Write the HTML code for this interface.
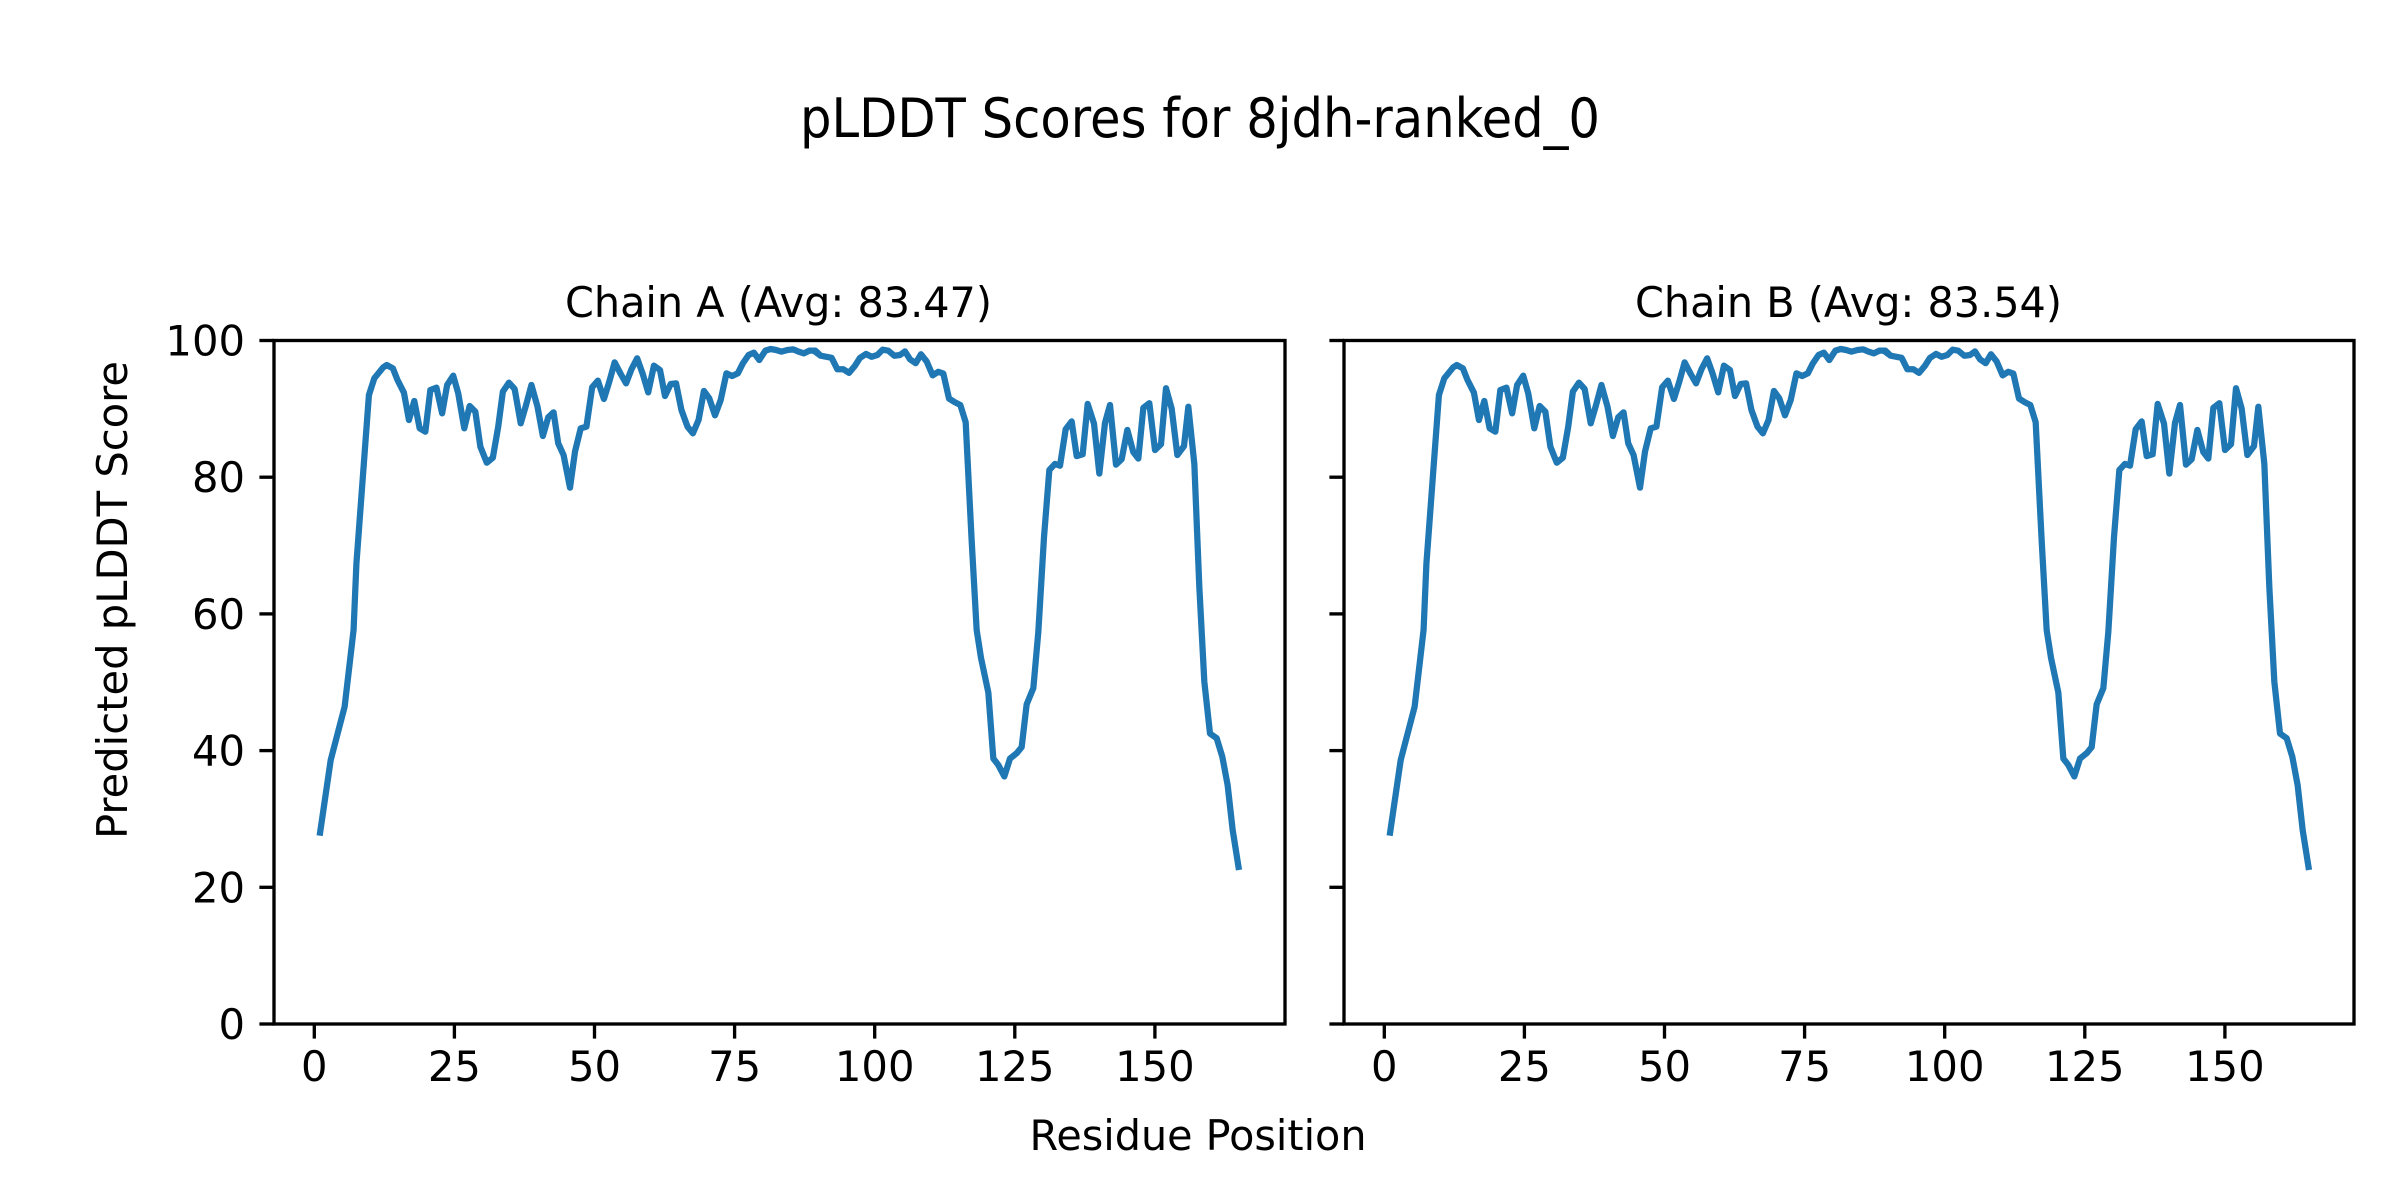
<!DOCTYPE html>
<html><head><meta charset="utf-8"><style>
html,body{margin:0;padding:0;background:#fff;}
svg{display:block;}
text{font-family:"DejaVu Sans","Liberation Sans",sans-serif;fill:#000;}
</style></head><body>
<svg width="2400" height="1200" viewBox="0 0 2400 1200" xmlns="http://www.w3.org/2000/svg">
<defs>
<g id="curve" fill="none" stroke="#1f77b4" stroke-width="6.25" stroke-linejoin="round">
<polyline vector-effect="non-scaling-stroke" transform="translate(260,330) scale(0.357143,0.333333)" points="167,1517 198,1290 237,1130 262,900 270,700 305,195 320,145 345,112 355,105 372,115 385,150 403,188 417,270 432,213 447,295 463,305 477,180 494,173 510,250 524,165 541,137 555,190 572,295 587,228 603,245 617,350 635,398 652,383 667,290 680,185 697,158 713,177 730,280 745,225 760,165 777,230 792,318 807,262 822,247 835,340 850,375 868,473 882,365 898,295 914,290 930,172 946,152 963,207 978,155 993,97 1010,132 1025,160 1040,118 1056,85 1072,133 1087,187 1103,107 1120,120 1134,198 1150,162 1165,160 1180,240 1197,290 1212,310 1228,270 1243,183 1258,205 1274,256 1290,210 1306,130 1322,138 1338,130 1352,100 1368,75 1383,68 1398,90 1415,62 1430,57 1445,60 1460,65 1477,60 1493,58 1508,65 1523,70 1538,62 1555,62 1568,75"/>
<polyline vector-effect="non-scaling-stroke" transform="translate(780,330) scale(0.333333,0.357143)" points="100,57 122,72 155,78 172,110 190,110 207,120 225,100 240,78 258,67 275,75 292,70 308,55 325,58 343,72 360,70 375,60 390,82 407,93 423,68 440,88 458,127 475,117 490,122 507,192 524,202 541,210 557,258 575,590 590,840 603,918 625,1015 640,1200 655,1218 673,1250 690,1200 710,1185 725,1168 740,1048 760,1003 775,845 792,580 808,392 825,375 840,380 857,278 875,256 890,353 908,348 923,207 942,262 958,402 975,260 990,210 1008,377 1025,362 1042,280 1060,342 1075,360 1090,218 1108,205 1125,336 1143,320 1158,163 1175,220 1192,350 1212,325 1225,215 1243,375 1258,720 1273,985 1290,1130 1310,1143 1327,1195 1343,1275 1358,1400 1377,1512"/>
</g>
<g id="xticks" stroke="#000" stroke-width="3.33">
<line x1="314.3" y1="1024" x2="314.3" y2="1038.6"/>
<line x1="454.4" y1="1024" x2="454.4" y2="1038.6"/>
<line x1="594.5" y1="1024" x2="594.5" y2="1038.6"/>
<line x1="734.6" y1="1024" x2="734.6" y2="1038.6"/>
<line x1="874.7" y1="1024" x2="874.7" y2="1038.6"/>
<line x1="1014.8" y1="1024" x2="1014.8" y2="1038.6"/>
<line x1="1154.9" y1="1024" x2="1154.9" y2="1038.6"/>
<line x1="274" y1="1024" x2="259.4" y2="1024"/>
<line x1="274" y1="887.3" x2="259.4" y2="887.3"/>
<line x1="274" y1="750.6" x2="259.4" y2="750.6"/>
<line x1="274" y1="613.9" x2="259.4" y2="613.9"/>
<line x1="274" y1="477.2" x2="259.4" y2="477.2"/>
<line x1="274" y1="340.5" x2="259.4" y2="340.5"/>
</g>
<g id="xlabels" font-size="41.7" text-anchor="middle">
<text x="314.3" y="1081">0</text>
<text x="454.4" y="1081">25</text>
<text x="594.5" y="1081">50</text>
<text x="734.6" y="1081">75</text>
<text x="874.7" y="1081">100</text>
<text x="1014.8" y="1081">125</text>
<text x="1154.9" y="1081">150</text>
</g>
</defs>

<text x="1200" y="137" font-size="54" text-anchor="middle" textLength="800" lengthAdjust="spacingAndGlyphs">pLDDT Scores for 8jdh-ranked_0</text>

<!-- Chain A -->
<use href="#curve"/>
<use href="#xticks"/>
<use href="#xlabels"/>
<rect x="274" y="340.5" width="1011" height="683.5" fill="none" stroke="#000" stroke-width="3.33"/>
<text x="778.5" y="317" font-size="41.7" text-anchor="middle" textLength="427" lengthAdjust="spacingAndGlyphs">Chain A (Avg: 83.47)</text>
<g font-size="41.7" text-anchor="end">
<text x="245" y="1039">0</text>
<text x="245" y="902.3">20</text>
<text x="245" y="765.6">40</text>
<text x="245" y="628.9">60</text>
<text x="245" y="492.2">80</text>
<text x="245" y="355.5">100</text>
</g>

<!-- Chain B -->
<g transform="translate(1070,0)">
<use href="#curve"/>
<use href="#xticks"/>
<use href="#xlabels"/>
<rect x="274" y="340.5" width="1010" height="683.5" fill="none" stroke="#000" stroke-width="3.33"/>
<text x="778.5" y="317" font-size="41.7" text-anchor="middle" textLength="427" lengthAdjust="spacingAndGlyphs">Chain B (Avg: 83.54)</text>
</g>

<text x="1198" y="1150" font-size="41.7" text-anchor="middle" textLength="337" lengthAdjust="spacingAndGlyphs">Residue Position</text>
<text transform="translate(127,600) rotate(-90)" x="0" y="0" font-size="41.7" text-anchor="middle" textLength="478" lengthAdjust="spacingAndGlyphs">Predicted pLDDT Score</text>
</svg>
</body></html>
